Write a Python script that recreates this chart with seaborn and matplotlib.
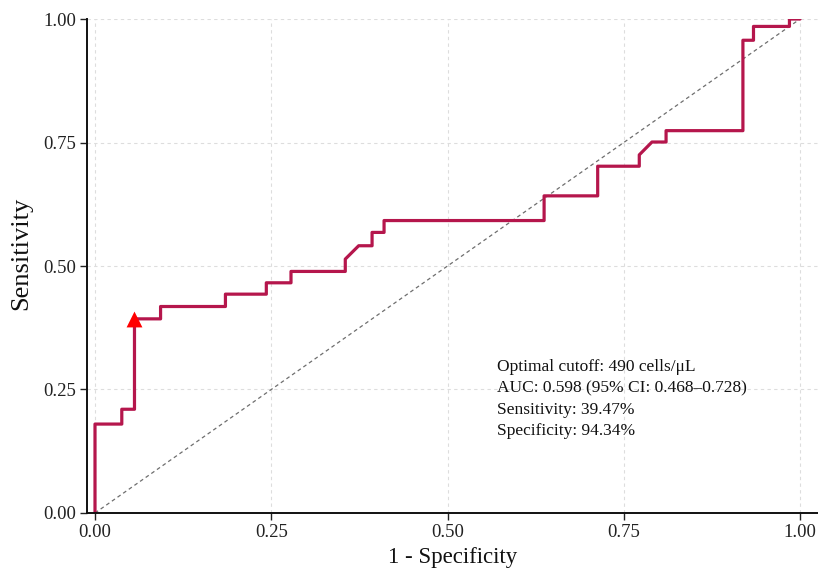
import numpy as np
import pandas as pd
import matplotlib
matplotlib.use("Agg")
import matplotlib.pyplot as plt
import seaborn as sns

# ── Data ───────────────────────────────────────────────────────────────────
# staircase vertices of the empirical ROC curve, in drawing order
fpr = [0.000, 0.000, 0.038, 0.038, 0.056, 0.056, 0.093, 0.093, 0.185, 0.185,
       0.243, 0.243, 0.278, 0.278, 0.355, 0.355, 0.374, 0.393, 0.393, 0.410,
       0.410, 0.637, 0.637, 0.713, 0.713, 0.772, 0.772, 0.790, 0.810, 0.810,
       0.919, 0.919, 0.934, 0.934, 0.985, 0.985, 1.000]
tpr = [0.000, 0.180, 0.180, 0.210, 0.210, 0.393, 0.393, 0.418, 0.418, 0.443,
       0.443, 0.466, 0.466, 0.489, 0.489, 0.514, 0.541, 0.541, 0.568, 0.568,
       0.592, 0.592, 0.642, 0.642, 0.702, 0.702, 0.725, 0.751, 0.751, 0.774,
       0.774, 0.957, 0.957, 0.985, 0.985, 1.000, 1.000]

# optimal cutoff point (1 - specificity, sensitivity)
cut_fpr = [0.056]
cut_tpr = [0.393]

chance = [0.0, 1.0]
ticks = [0.00, 0.25, 0.50, 0.75, 1.00]
tick_labels = ["0.00", "0.25", "0.50", "0.75", "1.00"]

info_lines = [
    "Optimal cutoff: 490 cells/\u03bcL",
    "AUC: 0.598 (95% CI: 0.468\u20130.728)",
    "Sensitivity: 39.47%",
    "Specificity: 94.34%",
]

# ── Style ─────────────────────────────────────────────────────────────────
sns.set_theme(style="whitegrid")
plt.rcParams["font.family"] = ["Liberation Serif", "DejaVu Serif"]

fig = plt.figure(figsize=(8.18, 5.71), dpi=100)
ax = fig.add_axes([0.1064, 0.1016, 0.8936, 0.8651])

roc = pd.DataFrame({"fpr": fpr, "tpr": tpr})
diag = pd.DataFrame({"x": chance, "y": chance})

sns.lineplot(data=diag, x="x", y="y", ax=ax, color="#6E6E6E",
             linestyle=(0, (3, 2.5)), linewidth=0.9, sort=False)
sns.lineplot(data=roc, x="fpr", y="tpr", ax=ax, color="#B5164C",
             linewidth=2.3, sort=False, estimator=None)
ax.scatter(cut_fpr, cut_tpr, marker="^", s=130, color="#FF0000",
           zorder=5, linewidths=0)

ax.text(0.570, 0.311, "\n".join(info_lines), fontsize=12.5, color="#111111",
        ha="left", va="top", linespacing=1.44)

# ── Axes ──────────────────────────────────────────────────────────────────
ax.set_xlim(-0.0113, 1.0255)
ax.set_ylim(0, 1)
ax.set_xticks(ticks)
ax.set_xticklabels(tick_labels)
ax.set_yticks(ticks)
ax.set_yticklabels(tick_labels)
ax.tick_params(axis="both", which="major", length=5, width=1.0,
               color="#222222", labelsize=13.5, labelcolor="#222222",
               direction="out", bottom=True, left=True, pad=3)
ax.set_xlabel("1 - Specificity", fontsize=16.5, color="#111111", labelpad=4)
ax.set_ylabel("Sensitivity", fontsize=19, color="#111111")
ax.yaxis.set_label_coords(-0.0745, 0.526)

ax.grid(True, color="#DDDDDD", linestyle=(0, (3, 3)), linewidth=0.8)
ax.set_facecolor("white")
for side in ["top", "right"]:
    ax.spines[side].set_visible(False)
for side in ["left", "bottom"]:
    ax.spines[side].set_visible(True)
    ax.spines[side].set_color("#111111")
    ax.spines[side].set_linewidth(1.4)

fig.savefig("out.png", dpi=100, facecolor="white")
